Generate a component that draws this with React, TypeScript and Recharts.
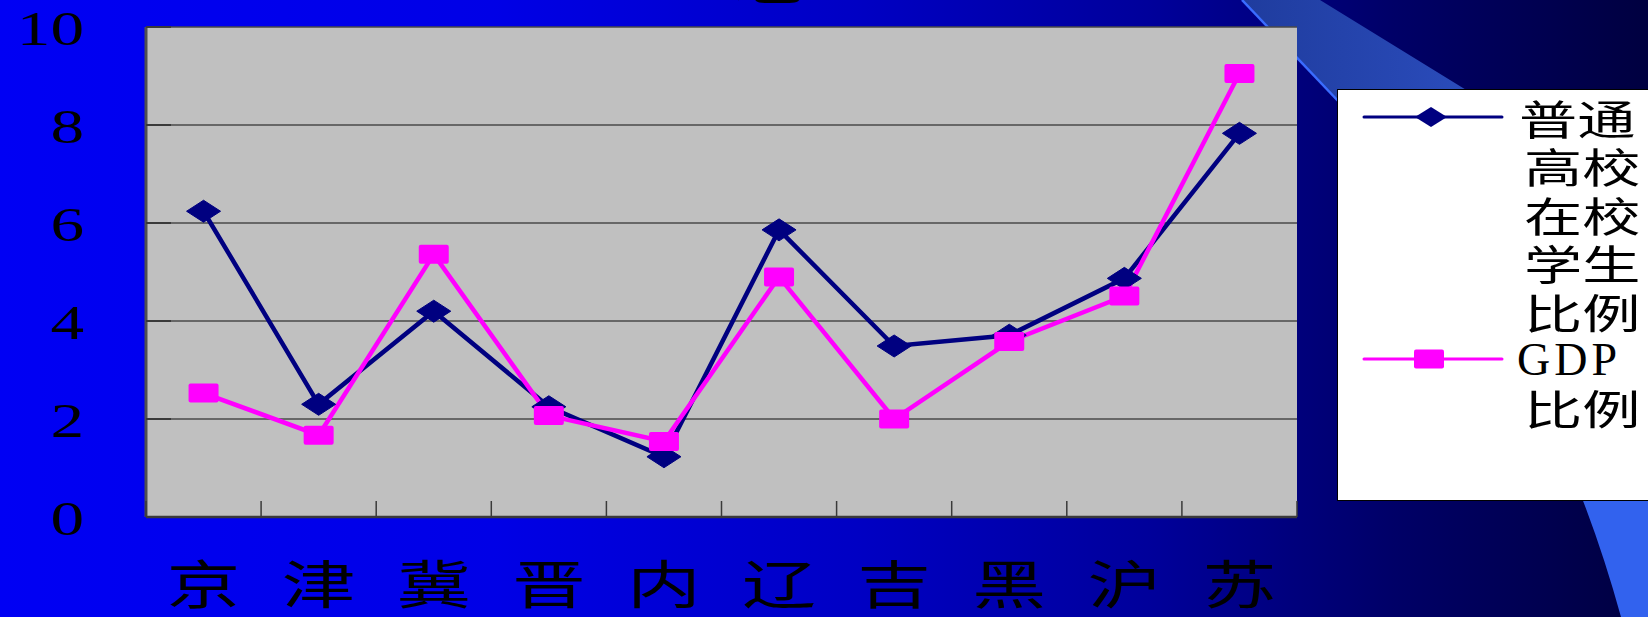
import React from 'react';
import { LineChart, Line, XAxis, YAxis, CartesianGrid, Legend } from 'recharts';

// Provinces along the category axis
const provinces = ['京', '津', '冀', '晋', '内', '辽', '吉', '黑', '沪', '苏'];
// Share of regular college students (%)
const studentShare = [6.24, 2.3, 4.2, 2.25, 1.23, 5.86, 3.49, 3.71, 4.87, 7.83];
// Share of GDP (%)
const gdpShare = [2.53, 1.67, 5.36, 2.07, 1.54, 4.9, 2.0, 3.58, 4.51, 9.05];

const seriesNames = ['普通高校在校学生比例', 'GDP比例'];
const legendLines: Record<string, string[]> = {
  student: ['普通', '高校', '在校', '学生', '比例'],
  gdp: ['GDP', '比例'],
};
const yTicks = [0, 2, 4, 6, 8, 10];

const NAVY = '#000080';
const MAGENTA = '#FF00FF';
const CJK = '"Noto Sans CJK SC", sans-serif';
const SERIF = '"Liberation Serif", "Times New Roman", serif';

const data = provinces.map((name, i) => ({
  name,
  student: studentShare[i],
  gdp: gdpShare[i],
}));

const DiamondDot = (props: any) => {
  const { cx, cy, index } = props;
  if (cx == null || cy == null) return <g key={`dd-${index}`} />;
  return (
    <path
      key={`dd-${index}`}
      d={`M${cx - 17},${cy} L${cx},${cy - 11} L${cx + 17},${cy} L${cx},${cy + 11} Z`}
      fill={NAVY}
      stroke={NAVY}
      strokeWidth={1}
      strokeLinejoin="round"
    />
  );
};

const SquareDot = (props: any) => {
  const { cx, cy, index } = props;
  if (cx == null || cy == null) return <g key={`sd-${index}`} />;
  return (
    <rect key={`sd-${index}`} x={cx - 15} y={cy - 9.5} width={30} height={19} rx={2} fill={MAGENTA} />
  );
};

// Category label plus the short inward tick marks on the band boundaries
const CategoryTick = (props: any) => {
  const { x, y, payload, index, width, visibleTicksCount } = props;
  const count = visibleTicksCount || provinces.length;
  const half =
    typeof payload.offset === 'number' && payload.offset > 0 ? payload.offset : width / count / 2;
  const isLast = index === count - 1;
  return (
    <g>
      <line x1={x - half} x2={x - half} y1={y} y2={y - 16} stroke="#3a3a3a" strokeWidth={1.5} />
      {isLast && (
        <line x1={x + half} x2={x + half} y1={y} y2={y - 16} stroke="#3a3a3a" strokeWidth={1.5} />
      )}
      <text
        transform={`translate(${x},${y + 64}) scale(1.42,1)`}
        textAnchor="middle"
        dominantBaseline="central"
        fontFamily={CJK}
        fontSize={52}
        fill="#000"
      >
        {payload.value}
      </text>
    </g>
  );
};

const ValueTick = (props: any) => {
  const { x, y, payload } = props;
  return (
    <g>
      <line x1={x} x2={x + 25} y1={y} y2={y} stroke="#3a3a3a" strokeWidth={2} />
      <text
        transform={`translate(${x - 62},${y + 2}) scale(1.4,1)`}
        textAnchor="end"
        dominantBaseline="central"
        fontFamily={SERIF}
        fontSize={48}
        fill="#000"
      >
        {payload.value}
      </text>
    </g>
  );
};

const LEGEND_W = 311;
const LEGEND_H = 412;

const LegendBox = (props: any) => {
  const payload = props.payload || [];
  const rowGap = 48.5;
  return (
    <div
      style={{
        width: LEGEND_W,
        height: LEGEND_H,
        background: '#fff',
        borderTop: '1.5px solid #000',
        borderLeft: '1.5px solid #000',
        borderBottom: '1.5px solid #000',
        boxSizing: 'border-box',
      }}
    >
      <svg width={LEGEND_W - 2} height={LEGEND_H - 3} style={{ display: 'block' }}>
        {payload.map((entry: any, i: number) => {
          const isStudent = entry.dataKey === 'student';
          const cy = isStudent ? 27 : 269;
          const color = isStudent ? NAVY : MAGENTA;
          const lines = legendLines[entry.dataKey] || [entry.value];
          return (
            <g key={`lg-${i}`}>
              <line x1={26} x2={164} y1={cy} y2={cy} stroke={color} strokeWidth={3} strokeLinecap="round" />
              {isStudent ? (
                <path d={`M${77},${cy} L${93},${cy - 10} L${109},${cy} L${93},${cy + 10} Z`} fill={NAVY} />
              ) : (
                <rect x={76} y={cy - 9.5} width={30} height={19} rx={2} fill={MAGENTA} />
              )}
              {lines.map((ln, j) => {
                const latin = /^[A-Za-z]+$/.test(ln);
                const tx = j === 0 ? 181 : 186;
                return latin ? (
                  <text
                    key={`lt-${j}`}
                    x={tx - 2}
                    y={cy + j * rowGap}
                    dominantBaseline="central"
                    fontFamily={SERIF}
                    fontSize={46}
                    letterSpacing={4}
                    fill="#000"
                  >
                    {ln}
                  </text>
                ) : (
                  <text
                    key={`lt-${j}`}
                    transform={`translate(${tx},${cy + j * rowGap}) scale(1.42,1)`}
                    dominantBaseline="central"
                    fontFamily={CJK}
                    fontSize={41}
                    fill="#000"
                  >
                    {ln}
                  </text>
                );
              })}
            </g>
          );
        })}
      </svg>
    </div>
  );
};

export default function App() {
  return (
    <div
      style={{
        position: 'absolute',
        left: 0,
        top: 0,
        width: 1648,
        height: 617,
        overflow: 'hidden',
        background:
          'linear-gradient(to right, #0000F4 0%, #0000E6 30%, #0000C4 52%, #00009A 70%, #000066 85%, #000040 100%)',
      }}
    >
      <svg width={1648} height={617} style={{ position: 'absolute', left: 0, top: 0 }}>
        <defs>
          <linearGradient id="band" x1="0" x2="1" y1="0" y2="0">
            <stop offset="0%" stopColor="#1F3C9E" />
            <stop offset="100%" stopColor="#3358D2" />
          </linearGradient>
        </defs>
        <polygon points="1242,0 1320,0 1648,202 1648,320 1546,320" fill="url(#band)" />
        <line x1={1242} y1={0} x2={1340} y2={103} stroke="#3A6CFF" strokeWidth={2.5} />
        <path d="M1578,488 Q1602,548 1621,617 L1648,617 L1648,488 Z" fill="#3262EE" />
        <text
          transform="translate(775,-2) scale(1.45,1)"
          textAnchor="middle"
          fontFamily={CJK}
          fontSize={64}
          fill="#000"
        >
          总
        </text>
      </svg>
      <div style={{ position: 'absolute', left: 0, top: 0 }}>
        <LineChart
          width={1648}
          height={617}
          data={data}
          margin={{ top: 27, right: 351, bottom: 0, left: 0 }}
        >
          <CartesianGrid vertical={false} fill="#C0C0C0" stroke="#4a4a4a" strokeWidth={1.5} />
          <XAxis
            dataKey="name"
            scale="band"
            height={100}
            interval={0}
            axisLine={{ stroke: '#3a3a3a', strokeWidth: 2.5 }}
            tickLine={false}
            tickSize={0}
            tickMargin={0}
            tick={<CategoryTick />}
          />
          <XAxis
            xAxisId="top"
            orientation="top"
            dataKey="name"
            scale="band"
            height={0}
            axisLine={{ stroke: '#808080', strokeWidth: 4 }}
            tickLine={false}
            tick={false}
          />
          <YAxis
            domain={[0, 10]}
            ticks={yTicks}
            interval={0}
            width={146}
            axisLine={{ stroke: '#505050', strokeWidth: 3 }}
            tickLine={false}
            tickSize={0}
            tickMargin={0}
            tick={<ValueTick />}
          />
          <YAxis
            yAxisId="right"
            orientation="right"
            domain={[0, 10]}
            width={0}
            axisLine={{ stroke: '#808080', strokeWidth: 5 }}
            tickLine={false}
            tick={false}
          />
          <Legend
            layout="horizontal"
            verticalAlign="middle"
            align="center"
            content={<LegendBox />}
            wrapperStyle={{ position: 'absolute', left: 1337, top: 89, width: LEGEND_W, height: LEGEND_H }}
          />
          <Line
            name={seriesNames[0]}
            dataKey="student"
            stroke={NAVY}
            strokeWidth={4.5}
            dot={DiamondDot}
            activeDot={false}
            isAnimationActive={false}
          />
          <Line
            name={seriesNames[1]}
            dataKey="gdp"
            stroke={MAGENTA}
            strokeWidth={4.5}
            dot={SquareDot}
            activeDot={false}
            isAnimationActive={false}
          />
        </LineChart>
      </div>
    </div>
  );
}
